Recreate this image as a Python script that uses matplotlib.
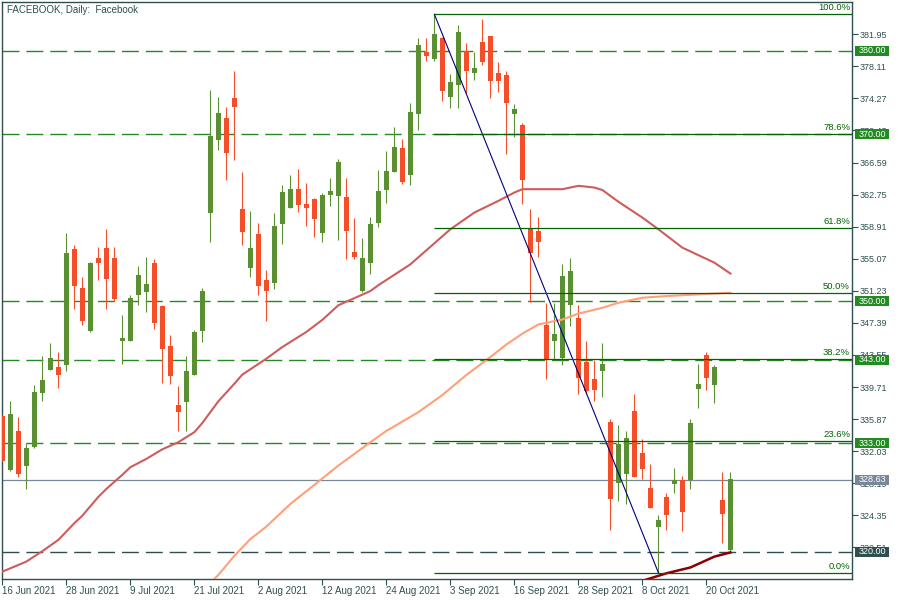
import numpy as np
import matplotlib
matplotlib.use('Agg')
import matplotlib.pyplot as plt
import matplotlib.transforms as mtransforms
from matplotlib.patches import Rectangle

# Daily candles (bar 0 = 16 Jun 2021, bar 91 = 25 Oct 2021)
opens = [336.24, 329.77, 334.45, 330.29, 332.57, 339.04, 341.79, 342.11, 342.39, 356.24,
         351.57, 346.46, 355.16, 356.36, 355.16, 345.26, 345.26, 350.77, 351.13, 354.56,
         349.42, 344.62, 337.56, 337.96, 341.19, 346.46, 360.58, 369.33, 371.92, 374.32,
         361.02, 354.00, 358.03, 352.52, 352.20, 359.27, 361.18, 363.42, 361.66, 362.26,
         358.19, 362.74, 362.62, 362.46, 355.91, 351.24, 354.60, 359.39, 363.34, 365.49,
         368.33, 365.13, 372.44, 379.87, 379.03, 381.51, 374.48, 375.92, 379.99, 377.36,
         381.03, 381.75, 377.32, 377.08, 372.45, 371.09, 358.63, 358.39, 347.13, 345.22,
         343.22, 349.57, 347.97, 342.70, 340.67, 341.67, 335.52, 328.25, 329.33, 336.84,
         331.81, 327.62, 322.99, 326.54, 328.13, 328.61, 328.61, 339.51, 343.54, 339.99,
         326.18, 320.23]
highs = [336.30, 338.04, 336.12, 332.97, 339.95, 343.43, 344.98, 343.91, 358.16, 356.72,
         352.89, 354.68, 356.48, 358.64, 356.48, 348.34, 350.73, 354.21, 355.28, 355.04,
         349.50, 345.94, 339.83, 343.43, 346.54, 351.57, 375.27, 374.44, 373.24, 377.55,
         365.45, 360.78, 359.35, 353.72, 360.54, 363.90, 365.09, 365.81, 364.13, 362.38,
         362.98, 364.74, 367.01, 364.74, 359.95, 357.55, 360.07, 365.69, 367.97, 370.84,
         369.41, 373.72, 381.50, 381.55, 384.35, 381.60, 377.20, 383.07, 380.91, 379.83,
         383.78, 381.80, 378.63, 377.56, 373.60, 371.33, 361.03, 360.07, 349.77, 349.77,
         354.44, 355.16, 349.53, 345.22, 342.94, 344.98, 335.88, 335.16, 334.44, 338.87,
         333.48, 330.53, 324.38, 327.02, 330.01, 329.05, 335.88, 342.46, 343.90, 342.34,
         329.53, 329.53]
lows = [330.80, 329.60, 328.98, 327.54, 332.41, 338.08, 341.70, 339.64, 341.67, 349.10,
        347.18, 346.34, 352.57, 349.10, 350.05, 342.51, 345.20, 349.58, 348.74, 346.70,
        340.23, 340.11, 334.49, 334.49, 341.10, 345.14, 357.11, 368.13, 364.54, 366.93,
        356.75, 352.92, 350.76, 347.65, 351.48, 356.87, 361.10, 360.70, 359.03, 357.71,
        357.11, 361.42, 357.35, 355.07, 355.07, 351.10, 353.28, 358.91, 361.78, 365.40,
        364.06, 363.94, 370.52, 378.79, 378.79, 374.00, 373.17, 373.17, 374.96, 376.52,
        378.31, 374.36, 375.08, 367.66, 369.69, 361.60, 349.93, 355.32, 340.67, 343.06,
        342.34, 347.06, 338.91, 338.91, 338.07, 338.55, 322.63, 326.10, 325.74, 328.90,
        328.73, 325.20, 317.48, 322.63, 327.06, 322.51, 327.54, 337.23, 339.39, 337.83,
        321.07, 319.87]
closes = [330.89, 336.48, 329.30, 332.41, 339.12, 340.55, 343.19, 341.19, 355.76, 351.85,
          347.66, 354.56, 354.60, 352.69, 350.29, 345.58, 350.37, 353.13, 352.05, 347.42,
          344.31, 341.07, 336.76, 341.63, 346.30, 351.21, 369.77, 372.52, 367.77, 373.28,
          358.31, 356.35, 351.84, 351.24, 358.99, 363.06, 363.42, 361.54, 361.18, 359.87,
          362.74, 363.18, 366.65, 358.43, 355.31, 355.15, 359.23, 363.18, 365.57, 368.45,
          364.30, 372.64, 380.66, 379.39, 381.99, 375.20, 376.24, 382.23, 377.60, 377.92,
          378.67, 376.40, 376.40, 373.76, 373.00, 364.54, 355.80, 357.11, 343.06, 346.06,
          353.00, 353.60, 340.83, 339.27, 339.39, 342.46, 326.34, 332.93, 333.60, 328.97,
          329.93, 325.26, 323.78, 324.42, 328.61, 324.78, 335.40, 340.07, 340.83, 342.10,
          324.54, 328.69]

# moving averages, sampled at bar positions
ma_fast_bars = [0, 3, 5, 7, 9, 10, 12, 13, 15, 16, 18, 20, 22, 24, 25, 27, 29, 30, 33, 35,
                38, 40, 42, 44, 46, 47, 51, 56, 59, 62, 64, 65, 70, 72, 74, 75, 77, 80, 82,
                85, 87, 89, 91]
ma_fast = [317.6, 318.8, 320.05, 321.4, 323.4, 324.3, 326.55, 327.5, 329.2, 330.1, 331.1,
           332.25, 333.1, 334.3, 335.4, 338.0, 340.1, 341.2, 343.1, 344.5, 346.3, 347.75,
           349.5, 350.35, 351.2, 351.9, 354.4, 358.6, 360.6, 362.0, 363.0, 363.4, 363.4,
           363.8, 363.6, 363.3, 361.9, 360.0, 358.6, 356.4, 355.5, 354.6, 353.3]
ma_slow_bars = [26, 27, 29, 31, 33, 36, 39, 42, 46, 48, 52, 55, 58, 61, 63, 65, 67, 70, 72,
                75, 77, 80, 83, 87, 91]
ma_slow = [316.3, 317.2, 319.5, 321.5, 323.0, 325.7, 328.0, 330.3, 333.1, 334.45, 336.7,
           338.75, 341.15, 343.3, 344.8, 346.1, 347.2, 347.8, 348.5, 349.2, 349.8, 350.4,
           350.6, 350.8, 351.0]
ma_long_bars = [80, 83, 86, 89, 91]
ma_long = [316.5, 317.4, 318.1, 319.4, 319.9]

date_ticks = [0, 8, 16, 24, 32, 40, 48, 56, 64, 72, 80, 88]
date_labels = ['16 Jun 2021', '28 Jun 2021', '9 Jul 2021', '21 Jul 2021', '2 Aug 2021',
               '12 Aug 2021', '24 Aug 2021', '3 Sep 2021', '16 Sep 2021', '28 Sep 2021',
               '8 Oct 2021', '20 Oct 2021']
price_ticks = [381.95, 378.11, 374.27, 370.43, 366.59, 362.75, 358.91, 355.07, 351.23,
               347.39, 343.55, 339.71, 335.87, 332.03, 328.19, 324.35, 320.51]

levels = [380.00, 370.00, 350.00, 343.00, 333.00]
support = 320.00
last_price = 328.63
fib_ratios = [0.0, 0.236, 0.382, 0.5, 0.618, 0.786, 1.0]

BULL = '#5A9032'
BEAR = '#F44D27'
FRAME = '#2F4F4F'
LEVEL = '#228B22'
FIB = '#006400'
LAST = '#778899'

plt.rcParams['font.family'] = ['Liberation Sans', 'DejaVu Sans']

fig = plt.figure(figsize=(9, 6), dpi=100)
ax = fig.add_axes([2.3 / 900, 21 / 600, 849.7 / 900, 576.7 / 600])
ax.set_xlim(0, 106.2)
ax.set_ylim(316.72, 385.78)

# horizontal levels
dash = (0, (12.2, 5.0))
for lv in levels:
    ax.axhline(lv, color=LEVEL, lw=1.0, linestyle=dash, zorder=1)
ax.axhline(support, color=FRAME, lw=1.0, linestyle=dash, zorder=1)
ax.axhline(last_price, color=LAST, lw=0.9, zorder=1)

# candles
o = np.array(opens)
c = np.array(closes)
x = np.arange(len(o))
cols = np.where(c >= o, BULL, BEAR)
ax.vlines(x, lows, highs, colors=cols, lw=0.8, zorder=3)
ax.bar(x, np.maximum(np.abs(c - o), 0.12), bottom=np.minimum(o, c), width=0.6,
       color=cols, lw=0, zorder=3)

# moving averages
ax.plot(ma_fast_bars, ma_fast, color='#CD5C5C', lw=1.5, zorder=4)
ax.plot(ma_slow_bars, ma_slow, color='#FFA07A', lw=1.5, zorder=4)
ax.plot(ma_long_bars, ma_long, color='#8B0000', lw=1.8, zorder=4)

# fibonacci retracement from swing high to swing low
hi_i = int(np.argmax(highs))
lo_i = int(np.argmin(lows))
hi = highs[hi_i]
lo = lows[lo_i]
ax.plot([hi_i, lo_i], [hi, lo], color='#000080', lw=0.8, zorder=5)
ytrans = ax.get_yaxis_transform()
lab_trans = ytrans + mtransforms.ScaledTranslation(0, 2 / 100, fig.dpi_scale_trans)
for r in fib_ratios:
    lv = lo + r * (hi - lo)
    ax.hlines(lv, hi_i, 106.2, color=FIB, lw=0.9, zorder=5)
    ax.text((850 - 2.3) / 849.7, lv, f'{r * 100:.1f}%', transform=lab_trans,
            ha='right', va='bottom', fontsize=6.8, color=FIB, zorder=6)

# axes styling
for s in ax.spines.values():
    s.set_color(FRAME)
    s.set_linewidth(1)
ax.yaxis.tick_right()
ax.set_yticks(price_ticks)
ax.set_yticklabels([f'{p:.2f}' for p in price_ticks])
ax.tick_params(axis='y', direction='out', length=4, width=0.8, colors=FRAME,
               labelsize=6.5, pad=1.5)
ax.set_xticks(date_ticks)
ax.set_xticklabels(date_labels, ha='left')
ax.tick_params(axis='x', direction='out', length=4, width=0.8, colors=FRAME,
               labelsize=7, pad=1)

# price tags on the right
box_w = 34 / 849.7
box_h = 10 / 8.35
tags = [(lv, LEVEL) for lv in levels] + [(last_price, LAST), (support, FRAME)]
for lv, col in tags:
    ax.add_patch(Rectangle((1.0035, lv - box_h / 2), box_w, box_h, transform=ytrans,
                           facecolor=col, edgecolor='none', clip_on=False, zorder=7))
    ax.text(1.0035 + box_w / 2, lv, f'{lv:.2f}', transform=ytrans, ha='center',
            va='center', fontsize=6.5, color='white', clip_on=False, zorder=8)

fig.text(6.7 / 900, 1 - 12.7 / 600, 'FACEBOOK, Daily:  Facebook', fontsize=7,
         color=FRAME, va='baseline')

fig.savefig('out.png', dpi=100, facecolor='white')
